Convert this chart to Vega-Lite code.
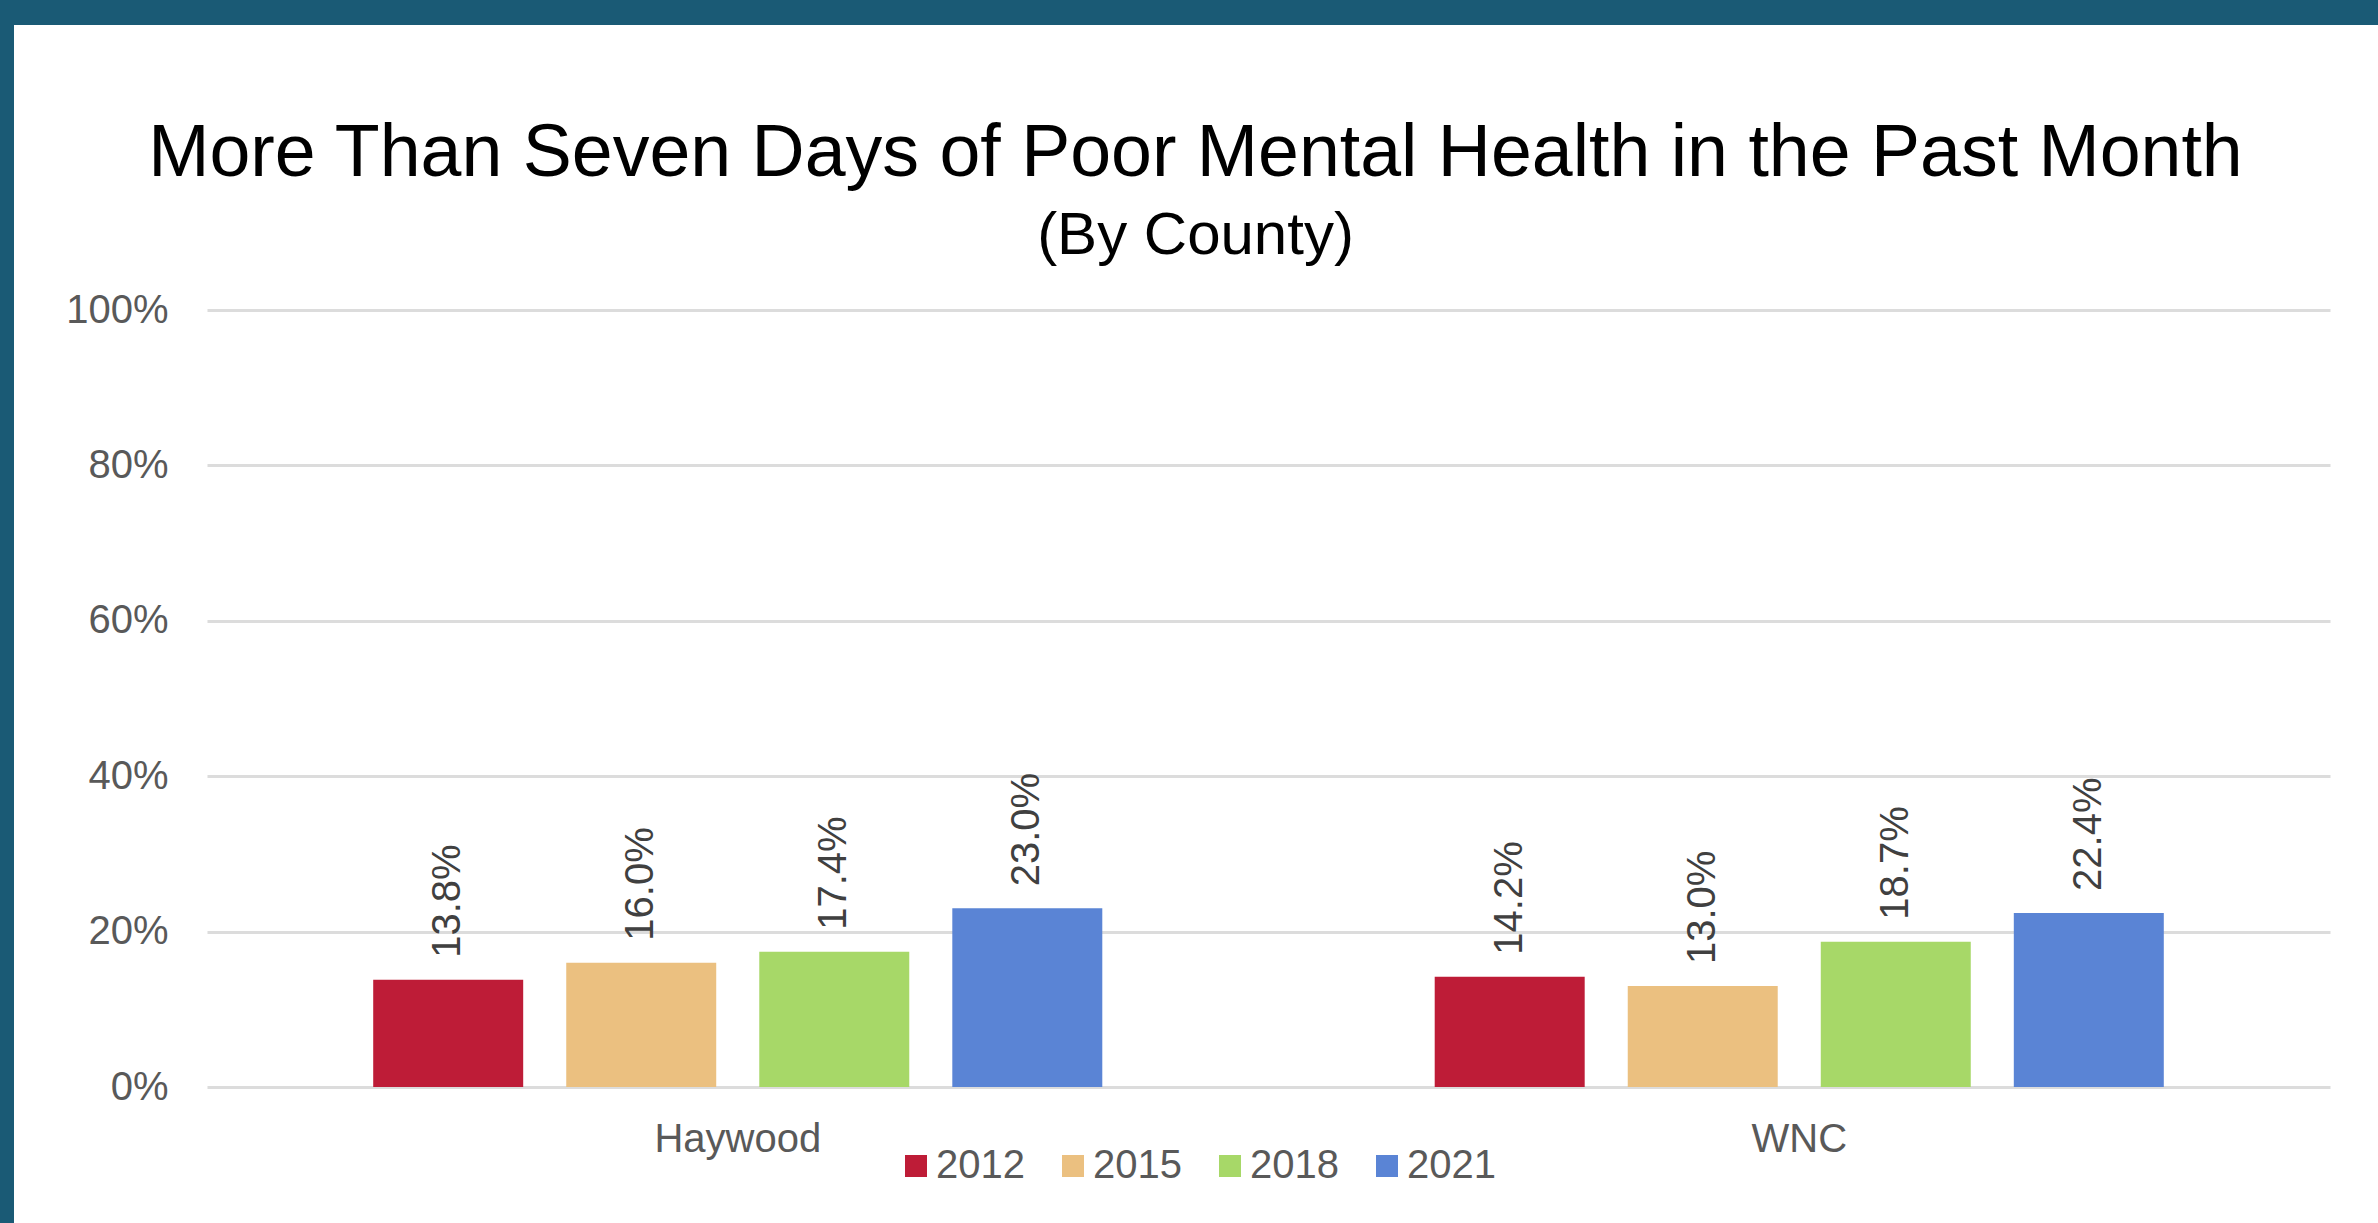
{
  "$schema": "https://vega.github.io/schema/vega-lite/v6.json",
  "background": "white",
  "padding": 0,
  "autosize": {"type": "pad"},
  "config": {
    "view": {"stroke": null},
    "font": "Liberation Sans",
    "concat": {"spacing": 0}
  },
  "bounds": "flush",
  "spacing": 0,
  "hconcat": [
    {
      "width": 14,
      "height": 1223,
      "view": {"fill": "#1a5a75", "stroke": null},
      "data": {"values": [{}]},
      "mark": {"type": "rect", "opacity": 0},
      "encoding": {}
    },
    {
      "bounds": "flush",
      "spacing": 285,
      "vconcat": [
        {
          "width": 2364,
          "height": 25,
          "view": {"fill": "#1a5a75", "stroke": null},
          "data": {"values": [{}]},
          "mark": {"type": "rect", "opacity": 0},
          "encoding": {}
        },
        {
          "bounds": "flush",
          "spacing": 192,
          "hconcat": [
            {
              "width": 1,
              "height": 1,
              "data": {"values": [{}]},
              "mark": {"type": "rect", "opacity": 0},
              "encoding": {}
            },
            {
              "width": 2123,
              "height": 777,
              "title": {
                "text": "More Than Seven Days of Poor Mental Health in the Past Month",
                "subtitle": "(By County)",
                "font": "Liberation Sans",
                "subtitleFont": "Liberation Sans",
                "fontSize": 73.5,
                "subtitleFontSize": 60,
                "fontWeight": "normal",
                "subtitleFontWeight": "normal",
                "color": "#000000",
                "subtitleColor": "#000000",
                "anchor": "middle",
                "dx": -73,
                "offset": 23,
                "subtitlePadding": 16
              },
              "data": {
                "values": [
                  {"region": "Haywood", "year": "2012", "value": 0.138},
                  {"region": "Haywood", "year": "2015", "value": 0.160},
                  {"region": "Haywood", "year": "2018", "value": 0.174},
                  {"region": "Haywood", "year": "2021", "value": 0.230},
                  {"region": "WNC", "year": "2012", "value": 0.142},
                  {"region": "WNC", "year": "2015", "value": 0.130},
                  {"region": "WNC", "year": "2018", "value": 0.187},
                  {"region": "WNC", "year": "2021", "value": 0.224}
                ]
              },
              "encoding": {
                "x": {
                  "field": "region",
                  "type": "nominal",
                  "sort": ["Haywood", "WNC"],
                  "scale": {"paddingInner": 0, "paddingOuter": 0},
                  "axis": {
                    "title": null,
                    "labelAngle": 0,
                    "labelFont": "Liberation Sans",
                    "labelFontSize": 40,
                    "labelColor": "#595959",
                    "labelPadding": 32,
                    "ticks": false,
                    "domain": false,
                    "grid": false
                  }
                },
                "xOffset": {
                  "field": "year",
                  "type": "nominal",
                  "scale": {"paddingInner": 0.223, "paddingOuter": 0.861}
                },
                "y": {
                  "field": "value",
                  "type": "quantitative",
                  "scale": {"domain": [0, 1]},
                  "axis": {
                    "title": null,
                    "values": [0, 0.2, 0.4, 0.6, 0.8, 1],
                    "format": ".0%",
                    "labelFont": "Liberation Sans",
                    "labelFontSize": 40,
                    "labelColor": "#595959",
                    "labelPadding": 39,
                    "ticks": false,
                    "domain": false,
                    "gridColor": "#dcdcdc",
                    "gridWidth": 3
                  }
                }
              },
              "layer": [
                {
                  "mark": {"type": "bar"},
                  "encoding": {
                    "color": {
                      "field": "year",
                      "type": "nominal",
                      "scale": {
                        "domain": ["2012", "2015", "2018", "2021"],
                        "range": ["#be1c37", "#ebc080", "#a7d868", "#5a84d5"]
                      },
                      "legend": {
                        "title": null,
                        "orient": "none",
                        "direction": "horizontal",
                        "legendX": 896,
                        "legendY": 1146,
                        "padding": 0,
                        "symbolType": "square",
                        "symbolSize": 484,
                        "symbolStrokeWidth": 0,
                        "labelFont": "Liberation Sans",
                        "labelFontSize": 40,
                        "labelColor": "#595959",
                        "labelOffset": 0,
                        "columnPadding": 28
                      }
                    }
                  }
                },
                {
                  "mark": {
                    "type": "text",
                    "angle": 270,
                    "align": "left",
                    "baseline": "middle",
                    "dx": 22,
                    "font": "Liberation Sans",
                    "fontSize": 40,
                    "color": "#404040"
                  },
                  "encoding": {
                    "text": {"field": "value", "type": "quantitative", "format": ".1%"}
                  }
                }
              ]
            }
          ]
        }
      ]
    }
  ]
}
